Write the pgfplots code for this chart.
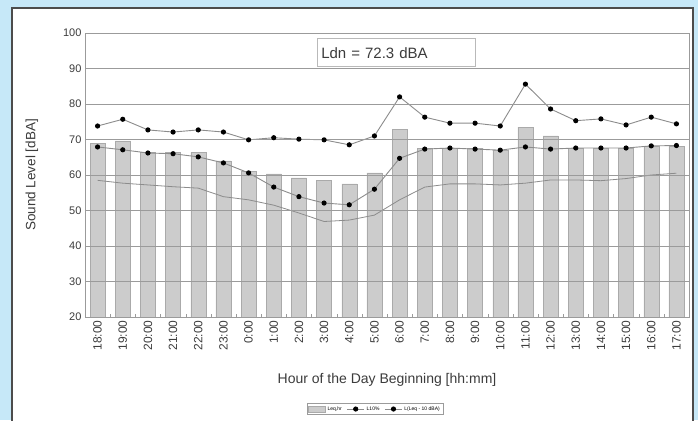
\documentclass[border=0pt]{standalone}
\usepackage{pgfplots}
\pgfplotsset{compat=1.18}
\usepackage{pgfplotstable}
\usepackage{fontspec}
\setmainfont{Liberation Sans}
\definecolor{bgblue}{RGB}{198,232,248}
\definecolor{barfill}{RGB}{204,204,204}
\definecolor{baredge}{RGB}{170,170,170}
\definecolor{gridc}{RGB}{155,155,155}
\definecolor{linec}{RGB}{140,140,140}
\definecolor{txt}{RGB}{60,60,60}
\pgfplotstableread{
i bar top mid low
0 69.0 73.8 67.9 58.5
1 69.6 75.7 67.1 57.7
2 66.3 72.7 66.2 57.2
3 66.4 72.1 66.0 56.7
4 66.4 72.7 65.1 56.3
5 64.0 72.1 63.4 53.9
6 61.1 69.9 60.6 53.0
7 60.3 70.5 56.6 51.5
8 59.2 70.1 53.9 49.3
9 58.5 69.9 52.1 46.9
10 57.5 68.5 51.6 47.3
11 60.6 71.0 56.0 48.7
12 72.9 82.0 64.7 53.0
13 67.5 76.3 67.3 56.6
14 67.5 74.6 67.6 57.5
15 67.5 74.6 67.3 57.5
16 67.0 73.8 67.0 57.2
17 73.5 85.6 67.9 57.7
18 71.0 78.6 67.3 58.6
19 67.5 75.3 67.6 58.6
20 67.5 75.8 67.6 58.4
21 67.5 74.1 67.6 59.0
22 68.0 76.3 68.2 60.0
23 68.0 74.4 68.3 60.5
}\datatable
\begin{document}
\begin{tikzpicture}
\useasboundingbox (0,0) rectangle (698pt,420pt);
\fill[bgblue] (0,0) rectangle (698pt,420pt);
\fill[white] (12pt,-5pt) rectangle (693pt,412pt);
\draw[black!70, line width=1.2pt] (12pt,-5pt) -- (12pt,412pt) -- (693pt,412pt) -- (693pt,-5pt);
\begin{axis}[
  scale only axis,
  width=604pt, height=284pt,
  at={(85pt,103pt)}, anchor=south west,
  xmin=-0.5, xmax=23.5, ymin=20, ymax=100,
  ytick={20,30,...,100},
  xtick={0,...,23},
  xticklabels={18:00,19:00,20:00,21:00,22:00,23:00,0:00,1:00,2:00,3:00,4:00,5:00,6:00,7:00,8:00,9:00,10:00,11:00,12:00,13:00,14:00,15:00,16:00,17:00},
  minor xtick={-0.5,0.5,...,23.5},
  major x tick style={draw=none},
  minor tick length=3pt,
  major tick length=3pt,
  tick pos=left,
  tick style={gridc},
  ymajorgrids,
  axis on top,
  grid style={gridc, line width=0.8pt},
  axis line style={gridc, line width=0.8pt},
  /pgf/number format/assume math mode=true,
  yticklabel style={font=\fontsize{11}{11}\selectfont, text=txt},
  xticklabel style={font=\fontsize{12}{12}\selectfont, text=txt, rotate=90, anchor=east},
  xlabel={Hour of the Day Beginning [hh:mm]},
  ylabel={Sound Level [dBA]},
  xlabel style={font=\fontsize{14}{14}\selectfont, text=txt, at={(axis description cs:0.5,-0.222)}, anchor=center},
  ylabel style={font=\fontsize{13.5}{13.5}\selectfont, text=txt, at={(axis description cs:-0.088,0.5)}, anchor=center, rotate=0},
  legend style={at={(axis description cs:0.48,-0.324)}, anchor=center, legend columns=3, font=\fontsize{5}{5}\selectfont, draw=gridc, inner sep=1pt, /tikz/every even column/.append style={column sep=3pt}},
  legend cell align=left,
]
\addplot[ybar, bar width=15pt, fill=barfill, draw=baredge, area legend] table[x=i,y=bar] {\datatable};
\addlegendentry{Leq,hr}
\addplot[linec, line width=0.9pt, mark=*, mark size=2.1pt, mark options={black, fill=black}] table[x=i,y=top] {\datatable};
\addlegendentry{L10\%}
\addplot[linec, line width=0.9pt, mark=*, mark size=2.1pt, mark options={black, fill=black}] table[x=i,y=mid] {\datatable};
\addlegendentry{L(Leq - 10 dBA)}
\addplot[linec, line width=0.8pt, forget plot] table[x=i,y=low] {\datatable};
\node[draw=gridc!70, fill=white, line width=0.8pt, minimum width=158pt, minimum height=28pt, text width=150pt, align=left, font=\fontsize{15}{15}\selectfont, text=txt, inner sep=3pt] at (axis cs:11.87,94.4) {Ldn = 72.3 dBA};
\end{axis}
\end{tikzpicture}
\end{document}
